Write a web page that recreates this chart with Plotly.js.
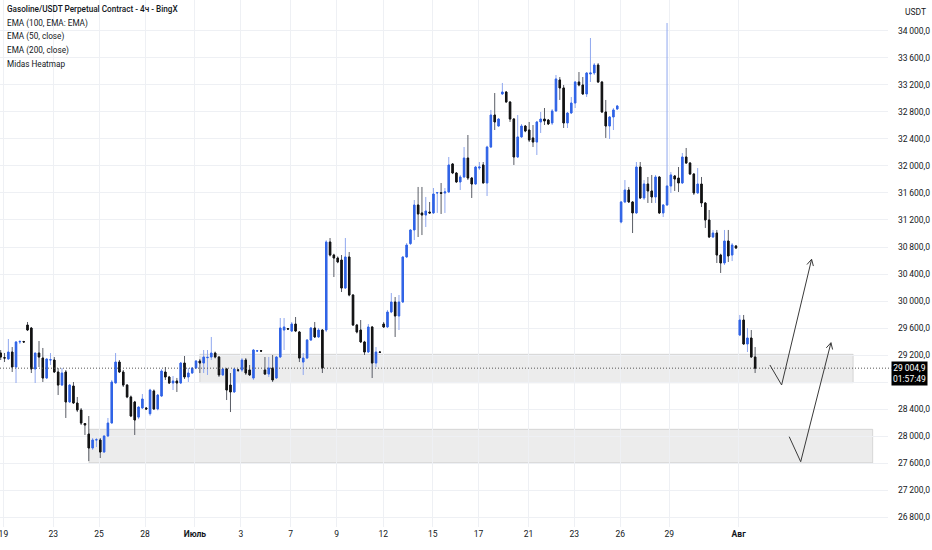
<!DOCTYPE html>
<html>
<head>
<meta charset="utf-8">
<script src="https://cdn.plot.ly/plotly-3.0.1.min.js"></script>
<style>
  html, body { margin: 0; padding: 0; background: #ffffff; }
  #chart { width: 932px; height: 550px; }
</style>
</head>
<body>
<div id="chart"></div>
<script>
// ---- Data (4h candles, Gasoline/USDT) ----
const open = [29229,29160,29141,29244,29022,29393,29400,29644,29600,28993,29229,29155,28859,29126,29126,28948,28755,28948,28504,28741,
28489,28385,28185,28029,27822,27941,27941,27763,28000,28192,28785,29096,28948,28755,28578,28504,28280,28415,28415,28330,
28667,28400,28592,28948,28874,28785,28815,28785,29081,28874,28933,29007,29111,29081,29160,29170,29229,29170,28904,28993,
28755,28652,28978,28978,29126,28978,28859,29259,29262,28978,28918,29007,28859,29170,29570,29590,29555,29659,29541,29096,
29155,29422,29600,29467,29570,29570,30874,30681,30637,30607,30192,30652,30089,29644,29570,29393,29244,29615,29081,29244,
29659,29615,29837,29985,29778,29985,30652,30850,31052,31422,31304,31274,31318,31304,31600,31605,31600,31615,32030,31896,
31763,31837,32118,31822,31733,31970,32015,31748,32281,32755,32592,33067,33096,32948,32696,32133,32430,32592,32533,32415,
32355,32652,32696,32681,32637,32815,33274,33156,32637,32785,32933,33244,33200,33067,33363,33378,33496,33244,32800,32592,
32726,32844,31170,31467,31644,31467,31304,31985,31526,31733,31630,31541,31837,31304,31422,31704,31852,31822,31748,32133,
32044,31881,31600,31733,31452,31200,30948,31007,30681,30563,30889,30681,30815,29496,29718,29363,29452,29170];
const high = [29274,29230,29437,29318,29407,29422,29410,29689,29615,29229,29407,29304,29141,29229,29170,29007,29007,28978,28770,28800,
28578,28415,28192,28296,27970,27970,27970,28010,28267,28830,29229,29126,28978,28770,28600,28520,28440,28622,28429,28700,
28690,28620,28990,29022,28890,28889,28860,29096,29185,29007,29022,29126,29141,29274,29274,29467,29250,29185,29010,29010,
28933,29010,28993,29155,29155,29052,29289,29274,29274,29170,29170,29200,29185,29748,29748,29600,29689,29763,29555,29229,
29437,29615,29689,29600,29585,30900,30933,30700,30660,30681,30933,30726,30100,29660,29718,29410,29659,29630,29318,29260,
29689,29867,30118,30059,30089,30660,30859,31060,31496,31689,31689,31541,31467,31674,31615,31748,31674,32133,32044,31910,
31867,32281,32459,31837,32000,32059,32059,32300,32830,33081,32710,33230,33110,32960,32710,32755,32622,32607,32652,32607,
32667,32800,32859,32696,32844,33348,33318,33200,32800,33022,33260,33392,33318,33392,33896,33525,33525,33260,32978,32740,
32859,32904,31480,31792,31689,31480,32059,32059,31792,31837,31867,31867,31850,31437,34118,31910,31867,31985,32192,32267,
32059,31895,31970,31837,31466,31348,31052,31052,30700,31052,31052,30859,30830,29793,29793,29600,29570,29318];
const low = [29126,29096,29126,28948,28785,29363,29380,29555,28933,28785,29022,28800,28844,29052,28933,28607,28741,28267,28490,28474,
28355,28163,28015,27629,27793,27837,27674,27750,27985,28192,28785,28933,28726,28560,28280,28015,28250,28400,28385,28300,
28385,28380,28580,28830,28770,28681,28652,28770,28844,28800,28920,28990,28933,28933,28904,29126,29150,28874,28890,28533,
28355,28640,28948,28948,28904,28889,28830,29244,29244,28904,28874,28800,28845,29155,29274,29570,29540,29540,29096,28904,
29141,29407,29452,29452,28933,29540,30660,30355,30560,30133,30180,30070,29630,29520,29380,29200,29230,28859,29022,29230,
29600,29600,29820,29467,29570,29970,30640,30830,30903,30948,30977,31096,31300,31290,31304,31289,31304,31600,31880,31750,
31644,31820,31792,31526,31718,31941,31748,31555,32267,32533,32580,33052,32940,32652,32015,32120,32415,32500,32355,32281,
32163,32489,32607,32607,32607,32800,32978,32563,32563,32770,32859,33180,33052,33022,33244,33348,33230,32785,32415,32400,
32533,32830,31150,31450,31452,31007,31290,31510,31496,31452,31452,31452,31290,31244,31410,31600,31630,31615,31733,32030,
31870,31570,31590,31392,31082,30933,30933,30563,30415,30533,30578,30592,30770,29480,29350,29244,29160,28933];
const close = [29170,29155,29244,29022,29393,29400,29393,29570,28993,29229,29170,28859,29141,29130,28948,28755,28933,28504,28755,28489,
28385,28192,28163,27822,27941,27945,27763,28000,28192,28800,29096,28948,28755,28578,28296,28237,28429,28548,28400,28681,
28400,28607,28963,28874,28785,28815,28785,29081,28874,28933,29007,29111,29081,29170,29165,29229,29170,28904,28993,28681,
28652,28993,28975,29126,28933,28904,29274,29262,29259,28918,29007,28830,29170,29600,29615,29585,29659,29555,29155,29155,
29422,29600,29467,29570,29007,30874,30681,30637,30578,30192,30652,30089,29644,29541,29393,29244,29615,29081,29244,29240,
29615,29837,29985,29778,29985,30652,30829,31052,31422,31289,31274,31333,31304,31585,31605,31595,31615,32015,31896,31763,
31837,32118,31822,31733,31985,31985,31748,32281,32755,32652,32696,33096,32948,32696,32133,32430,32592,32518,32385,32355,
32652,32696,32667,32622,32815,33289,33156,32637,32785,32933,33244,33200,33067,33378,33378,33496,33244,32800,32592,32726,
32830,32889,31467,31644,31467,31304,31985,31526,31733,31630,31541,31837,31304,31422,31704,31867,31807,31748,32133,32044,
31881,31600,31733,31452,31200,30948,31007,30681,30563,30889,30667,30829,30785,29718,29363,29452,29170,29004.9];

// time-axis labels and the bar positions they sit on
const timeLabels = ['19','23','25','28','<b>Июль</b>','3','7','9','12','15','17','21','23','26','29','<b>Авг</b>'];
const timeTickBars = [0.7,13.7,25.7,37.7,50.7,62.7,75.7,87.7,99.9,112.8,124.8,137.8,149.8,161.8,174.6,192.7];

// price-scale ticks
const priceTicks = [26800,27200,27600,28000,28400,28800,29200,29600,30000,30400,30800,31200,31600,32000,32400,32800,33200,33600,34000];
const hiddenTick = 28800; // covered by the last-price label
const lastPrice = close[close.length - 1];
const lastPriceText = '29\u2009004,9';
const countdownText = '01:57:49';

// drawn zones and projected paths (bar index, price)
const zoneUpper = {x0: 52.0, x1: 222.6, y0: 28790, y1: 29210};
const zoneLower = {x0: 23.05, x1: 227.7, y0: 27604, y1: 28099};
const path1 = [[200.86, 29052], [203.92, 28756], [211.75, 30618]];
const path2 = [[205.9, 27990], [208.9, 27619], [216.8, 29382]];

const legendLines = ['Gasoline/USDT Perpetual Contract - 4ч - BingX','EMA (100, EMA: EMA)','EMA (50, close)','EMA (200, close)','Midas Heatmap'];

// ---- Build ----
const W = 932, H = 550;
const M = {l: 0, r: 44, t: 0, b: 23};
const plotW = W - M.l - M.r, plotH = H - M.t - M.b;
const xRange = [-0.183, 231.7];
const yRange = [26652, 34459];
const pxPerX = plotW / (xRange[1] - xRange[0]);
const pxPerY = plotH / (yRange[1] - yRange[0]);

const idx = open.map((_, i) => i);
const bodyHi = open.map((o, i) => Math.max(o, close[i]));
const bodyLo = open.map((o, i) => Math.min(o, close[i]));

function fmtPrice(v) {
  if (v === hiddenTick) return '';
  const th = Math.floor(v / 1000);
  const rest = String(v % 1000).padStart(3, '0');
  return th + '\u2009' + rest + ',0';
}

const BLUE = '#2f63e6', BLUE_WICK = '#8fa7ef', DARK = '#121212', DARK_WICK = '#5a5d66';

const wicks = {
  type: 'candlestick', x: idx, open: open, high: high, low: low, close: close,
  increasing: {line: {color: BLUE_WICK, width: 1}, fillcolor: BLUE_WICK},
  decreasing: {line: {color: DARK_WICK, width: 1}, fillcolor: DARK_WICK},
  whiskerwidth: 0, hoverinfo: 'skip', showlegend: false
};
const bodies = {
  type: 'candlestick', x: idx, open: open, high: bodyHi, low: bodyLo, close: close,
  increasing: {line: {color: BLUE, width: 1}, fillcolor: BLUE},
  decreasing: {line: {color: DARK, width: 1}, fillcolor: DARK},
  whiskerwidth: 0, hoverinfo: 'skip', showlegend: false
};

function arrowHead(p, q) {
  const dx = (q[0] - p[0]) * pxPerX, dy = (q[1] - p[1]) * pxPerY;
  const len = Math.hypot(dx, dy), ux = dx / len, uy = dy / len;
  const L = 7, a = 28 * Math.PI / 180;
  const pts = [-a, a].map(t => {
    const rx = -(ux * Math.cos(t) - uy * Math.sin(t)) * L;
    const ry = -(ux * Math.sin(t) + uy * Math.cos(t)) * L;
    return [q[0] + rx / pxPerX, q[1] + ry / pxPerY];
  });
  return `M${pts[0][0]},${pts[0][1]} L${q[0]},${q[1]} L${pts[1][0]},${pts[1][1]}`;
}
function polyPath(pts) {
  return pts.map((p, i) => (i ? 'L' : 'M') + p[0] + ',' + p[1]).join(' ');
}

const zoneStyle = {fillcolor: 'rgba(205,205,205,0.38)', line: {color: 'rgba(190,190,190,0.55)', width: 1}};
const shapes = [
  Object.assign({type: 'rect', xref: 'x', yref: 'y', layer: 'below'}, zoneUpper, zoneStyle),
  Object.assign({type: 'rect', xref: 'x', yref: 'y', layer: 'below'}, zoneLower, zoneStyle),
  {type: 'line', xref: 'paper', yref: 'y', x0: 0, x1: 1.004, y0: lastPrice, y1: lastPrice,
   line: {color: '#555555', width: 1, dash: '1px,2px'}, layer: 'above'},
  {type: 'path', xref: 'x', yref: 'y', path: polyPath(path1), line: {color: '#3a3a3a', width: 1}},
  {type: 'path', xref: 'x', yref: 'y', path: arrowHead(path1[1], path1[2]), line: {color: '#3a3a3a', width: 1}},
  {type: 'path', xref: 'x', yref: 'y', path: polyPath(path2), line: {color: '#3a3a3a', width: 1}},
  {type: 'path', xref: 'x', yref: 'y', path: arrowHead(path2[1], path2[2]), line: {color: '#3a3a3a', width: 1}}
];

const FONT = 'Roboto, "Noto Sans", sans-serif';
const annotations = legendLines.map((t, i) => ({
  xref: 'paper', yref: 'paper', x: 5 / plotW, y: 1 - [9, 23, 37, 50.5, 64][i] / plotH,
  xanchor: 'left', yanchor: 'middle', showarrow: false, text: t,
  font: {family: FONT, size: 8.2, color: '#131722', weight: i === 0 ? 500 : 400}
}));
annotations.push({
  xref: 'paper', yref: 'paper', x: 915 / plotW, y: 1 - 12 / plotH, xanchor: 'center', yanchor: 'middle',
  showarrow: false, text: 'USDT', font: {family: FONT, size: 8.5, color: '#131722'}
});
annotations.push({
  xref: 'paper', yref: 'y', x: 1, y: lastPrice, xanchor: 'left', yanchor: 'top', xshift: 3, yshift: 7,
  showarrow: false, text: lastPriceText + '<br>' + countdownText, align: 'center',
  bgcolor: '#000000', borderpad: 1, font: {family: FONT, size: 8.5, color: '#ffffff'}
});

const layout = {
  width: W, height: H, margin: M,
  paper_bgcolor: '#ffffff', plot_bgcolor: '#ffffff',
  showlegend: false, hovermode: false, dragmode: false,
  boxgap: 0.47,
  xaxis: {
    range: xRange, rangeslider: {visible: false}, type: 'linear',
    tickmode: 'array', tickvals: timeTickBars, ticktext: timeLabels,
    ticklabeloverflow: 'allow',
    showgrid: true, gridcolor: '#eef0f4', gridwidth: 1, zeroline: false, showline: false, ticks: '',
    tickfont: {family: FONT, size: 8.5, color: '#131722'}, fixedrange: true
  },
  yaxis: {
    range: yRange, side: 'right', tickmode: 'array', tickvals: priceTicks, ticktext: priceTicks.map(fmtPrice),
    showgrid: true, gridcolor: '#eef0f4', gridwidth: 1, zeroline: false, showline: false, ticks: '',
    ticklabelstandoff: 9,
    tickfont: {family: FONT, size: 8.5, color: '#131722'}, fixedrange: true
  },
  shapes: shapes,
  annotations: annotations
};

Plotly.newPlot('chart', [wicks, bodies], layout, {staticPlot: true, displayModeBar: false});
</script>
</body>
</html>
